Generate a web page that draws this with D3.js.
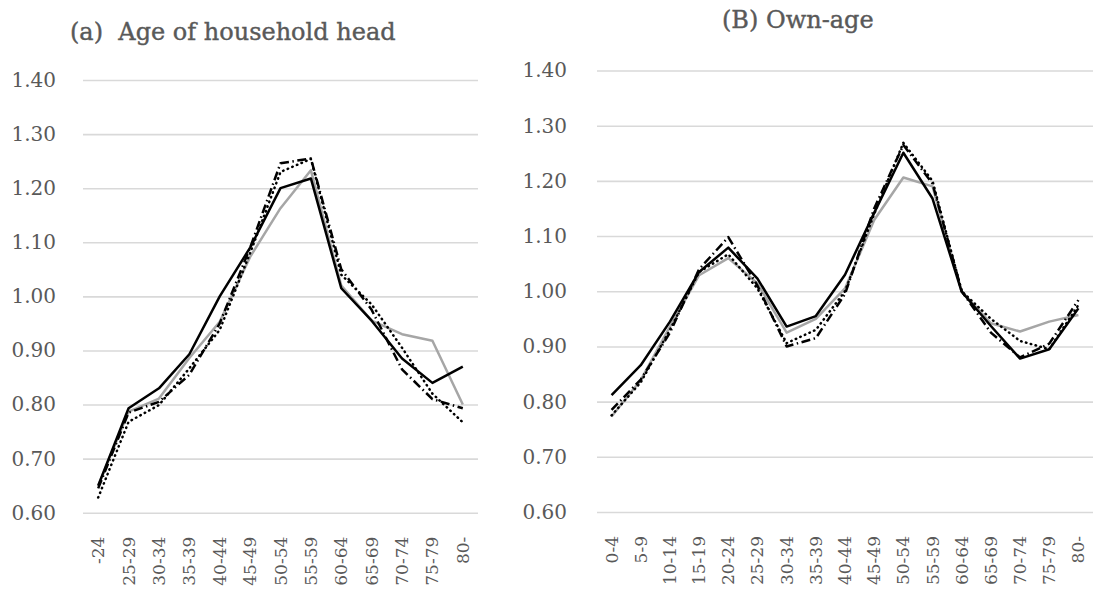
<!DOCTYPE html>
<html>
<head>
<meta charset="utf-8">
<script src="https://cdn.jsdelivr.net/npm/d3@7"></script>
<style>
  html, body { margin: 0; padding: 0; background: #fff; }
  svg { display: block; font-family: "DejaVu Serif", serif; }
</style>
</head>
<body>
<svg id="chart" width="1097" height="589" viewBox="0 0 1097 589"></svg>
<script>
const headAges = ["-24", "25-29", "30-34", "35-39", "40-44", "45-49", "50-54", "55-59", "60-64", "65-69", "70-74", "75-79", "80-"]
const ownAges = ["0-4", "5-9", "10-14", "15-19", "20-24", "25-29", "30-34", "35-39", "40-44", "45-49", "50-54", "55-59", "60-64", "65-69", "70-74", "75-79", "80-"]
const yTicks = [0.6, 0.7, 0.8, 0.9, 1.0, 1.1, 1.2, 1.3, 1.4]

// panel (a): age of household head
const headGray = [0.650, 0.787, 0.811, 0.886, 0.953, 1.073, 1.163, 1.233, 1.020, 0.955, 0.930, 0.918, 0.800]
const headDotted = [0.628, 0.768, 0.799, 0.867, 0.938, 1.080, 1.230, 1.254, 1.040, 0.985, 0.905, 0.820, 0.767]
const headDashDot = [0.645, 0.785, 0.805, 0.855, 0.950, 1.090, 1.246, 1.255, 1.050, 0.975, 0.865, 0.810, 0.793]
const headBlack = [0.650, 0.793, 0.830, 0.893, 1.000, 1.090, 1.200, 1.218, 1.015, 0.955, 0.885, 0.840, 0.870]

// panel (B): own-age
const ownGray = [0.773, 0.839, 0.936, 1.029, 1.060, 1.014, 0.925, 0.950, 1.005, 1.129, 1.206, 1.190, 1.000, 0.942, 0.927, 0.945, 0.957]
const ownDotted = [0.775, 0.835, 0.930, 1.035, 1.067, 1.005, 0.906, 0.930, 1.000, 1.140, 1.269, 1.200, 1.000, 0.950, 0.910, 0.895, 0.975]
const ownDashDot = [0.785, 0.840, 0.925, 1.040, 1.098, 1.010, 0.900, 0.915, 0.995, 1.150, 1.265, 1.195, 1.000, 0.925, 0.880, 0.905, 0.984]
const ownBlack = [0.812, 0.866, 0.945, 1.035, 1.079, 1.023, 0.936, 0.955, 1.030, 1.142, 1.251, 1.168, 0.999, 0.937, 0.878, 0.895, 0.969]

const styles = [
  { stroke: "#a6a6a6", dash: null, cap: "butt" },
  { stroke: "#000", dash: "0.5,4.5", cap: "round" },
  { stroke: "#000", dash: "9,3.5,1.5,3.5", cap: "butt" },
  { stroke: "#000", dash: null, cap: "butt" },
]

const svg = d3.select("#chart")

function drawPanel(opts) {
  const x = d3.scaleBand().domain(opts.categories).range([opts.left, opts.right]).padding(0)
  const y = d3.scaleLinear().domain([0.6, 1.4]).range([opts.bottom, opts.top])
  const g = svg.append("g")

  g.append("g")
    .attr("transform", `translate(${opts.left},0)`)
    .call(d3.axisLeft(y).tickValues(yTicks).tickFormat(d3.format(".2f"))
      .tickSize(-(opts.right - opts.left)).tickPadding(opts.pad))
    .call((axis) => axis.select(".domain").remove())
    .call((axis) => axis.selectAll("line").attr("stroke", "#d9d9d9").attr("stroke-width", 1.6))
    .call((axis) => axis.selectAll("text").attr("fill", "#595959").attr("font-size", 20)
      .attr("font-family", "DejaVu Serif"))

  g.append("g")
    .attr("transform", `translate(0,${opts.bottom})`)
    .call(d3.axisBottom(x).tickSize(0))
    .call((axis) => axis.select(".domain").remove())
    .call((axis) => axis.selectAll("text")
      .attr("fill", "#595959")
      .attr("font-size", 17)
      .attr("font-family", "DejaVu Serif")
      .attr("text-anchor", "end")
      .attr("dominant-baseline", "central")
      .attr("dy", null)
      .attr("y", 0)
      .attr("transform", "translate(0,24) rotate(-90)"))

  const line = d3.line()
    .x((d, i) => x(opts.categories[i]) + x.bandwidth() / 2)
    .y((d) => y(d))

  opts.series.forEach((values, i) => {
    const s = styles[i]
    g.append("path")
      .datum(values)
      .attr("d", line)
      .attr("fill", "none")
      .attr("stroke", s.stroke)
      .attr("stroke-width", 2.5)
      .attr("stroke-linejoin", "round")
      .attr("stroke-linecap", s.cap)
      .attr("stroke-dasharray", s.dash)
  })

  g.append("text")
    .attr("x", opts.titleX)
    .attr("y", opts.titleY)
    .attr("fill", "#595959")
    .attr("stroke", "#595959")
    .attr("stroke-width", 0.4)
    .attr("font-size", 24)
    .attr("font-family", "DejaVu Serif")
    .attr("xml:space", "preserve")
    .style("white-space", "pre")
    .text(opts.title)
}

drawPanel({
  categories: headAges,
  series: [headGray, headDotted, headDashDot, headBlack],
  left: 83, right: 478, top: 80, bottom: 512.7, pad: 27,
  title: "(a)  Age of household head", titleX: 70, titleY: 40,
})

drawPanel({
  categories: ownAges,
  series: [ownGray, ownDotted, ownDashDot, ownBlack],
  left: 597, right: 1093, top: 70.5, bottom: 512, pad: 30,
  title: "(B) Own-age", titleX: 722, titleY: 28,
})
</script>
</body>
</html>
